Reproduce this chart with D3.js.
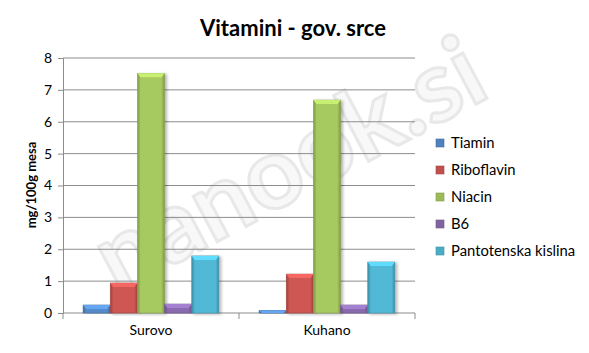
<!DOCTYPE html>
<html>
<head>
<meta charset="utf-8">
<script src="https://cdn.jsdelivr.net/npm/d3@7"></script>
<style>
  body { margin: 0; background: #fff; }
  text { font-family: Lato, "Open Sans", sans-serif; }
</style>
</head>
<body>
<svg id="chart"></svg>
<script>
// data
const categories = ["Surovo", "Kuhano"];
const seriesNames = ["Tiamin", "Riboflavin", "Niacin", "B6", "Pantotenska kislina"];
const seriesColors = ["#4f81bd", "#c0504d", "#9bbb59", "#8064a2", "#4bacc6"];
const tiamin = [0.25, 0.08];
const riboflavin = [0.94, 1.22];
const niacin = [7.52, 6.68];
const b6 = [0.28, 0.25];
const pantotenska = [1.79, 1.6];
const yTicks = [0, 1, 2, 3, 4, 5, 6, 7, 8];

const values = [tiamin, riboflavin, niacin, b6, pantotenska];

const width = 589, height = 353;
const margin = {left: 63, right: 174, top: 58, bottom: 40};

const svg = d3.select("#chart").attr("width", width).attr("height", height);
const defs = svg.append("defs");

// gradients for the bevelled bars
seriesColors.forEach(function(c, i) {
  const g = defs.append("linearGradient").attr("id", "grad" + i)
    .attr("x1", 0).attr("x2", 1).attr("y1", 0).attr("y2", 0);
  g.append("stop").attr("offset", "0%").attr("stop-color", d3.color(c).darker(0.6));
  g.append("stop").attr("offset", "12%").attr("stop-color", d3.color(c).brighter(0.2));
  g.append("stop").attr("offset", "88%").attr("stop-color", d3.color(c).brighter(0.2));
  g.append("stop").attr("offset", "100%").attr("stop-color", d3.color(c).darker(0.6));
});
const shadow = defs.append("filter").attr("id", "shadow")
  .attr("x", "-20%").attr("y", "-5%").attr("width", "150%").attr("height", "115%");
shadow.append("feDropShadow").attr("dx", 2).attr("dy", 1).attr("stdDeviation", 1.5)
  .attr("flood-color", "#000").attr("flood-opacity", 0.3);

// scales
const y = d3.scaleLinear().domain([0, 8]).range([height - margin.bottom, margin.top]);
const x0 = d3.scaleBand().domain(categories).range([margin.left, width - margin.right]);
const x1 = d3.scaleBand().domain(seriesNames)
  .range([0, x0.bandwidth()]).paddingOuter(0.74).paddingInner(0);

// watermark
svg.append("text")
  .attr("transform", "translate(305,195) rotate(-28)")
  .attr("text-anchor", "middle")
  .attr("font-size", 100).attr("font-weight", "bold")
  .attr("fill", "#f8f8f8").attr("stroke", "#e8e8e8").attr("stroke-width", 3)
  .text("nanook.si");

// gridlines
svg.append("g").selectAll("line")
  .data(yTicks.filter(d => d > 0))
  .join("line")
  .attr("x1", margin.left).attr("x2", width - margin.right)
  .attr("y1", d => y(d)).attr("y2", d => y(d))
  .attr("stroke", "#8c8c8c").attr("stroke-width", 1);

// y axis
const yAxis = svg.append("g")
  .attr("transform", "translate(" + margin.left + ",0)")
  .call(d3.axisLeft(y).tickValues(yTicks).tickSize(5).tickPadding(6));
yAxis.select(".domain").attr("stroke", "#8c8c8c");
yAxis.selectAll(".tick line").attr("stroke", "#8c8c8c");
yAxis.selectAll(".tick text").attr("font-size", 14).attr("fill", "#000")
  .style("font-family", "Lato, sans-serif");

// x axis
const xAxis = svg.append("g")
  .attr("transform", "translate(0," + y(0) + ")")
  .call(d3.axisBottom(x0).tickSize(0).tickPadding(12));
xAxis.select(".domain").remove();
xAxis.append("line").attr("x1", margin.left).attr("x2", width - margin.right)
  .attr("stroke", "#8c8c8c");
xAxis.selectAll(".edge").data([margin.left, margin.left + x0.bandwidth(), width - margin.right])
  .join("line").attr("class", "edge")
  .attr("x1", d => d).attr("x2", d => d).attr("y1", 0).attr("y2", 6)
  .attr("stroke", "#8c8c8c");
xAxis.selectAll(".tick text").attr("font-size", 14).attr("fill", "#000")
  .style("font-family", "Lato, sans-serif");

// bars
const groups = svg.append("g").selectAll("g")
  .data(categories)
  .join("g")
  .attr("transform", d => "translate(" + x0(d) + ",0)");

groups.selectAll("rect")
  .data((c, ci) => seriesNames.map((s, si) => ({s: s, si: si, v: values[si][ci]})))
  .join("rect")
  .attr("x", d => x1(d.s))
  .attr("width", x1.bandwidth())
  .attr("y", d => y(d.v))
  .attr("height", d => y(0) - y(d.v))
  .attr("fill", d => "url(#grad" + d.si + ")")
  .attr("stroke", d => d3.color(seriesColors[d.si]).darker(0.4))
  .attr("stroke-width", 0.6)
  .attr("filter", "url(#shadow)");

// bevel highlight at top of bars
groups.selectAll("path.top")
  .data((c, ci) => seriesNames.map((s, si) => ({s: s, si: si, v: values[si][ci]})))
  .join("path").attr("class", "top")
  .attr("d", function(d) {
    const x = x1(d.s), w = x1.bandwidth(), t = y(d.v), h = Math.min(4, y(0) - t);
    return "M" + x + "," + t + "h" + w + "l-3," + h + "h" + (-(w - 6)) + "z";
  })
  .attr("fill", d => d3.color(seriesColors[d.si]).brighter(0.7));

// title
svg.append("text")
  .attr("x", 293).attr("y", 36)
  .attr("text-anchor", "middle")
  .attr("font-size", 22).attr("font-weight", "bold")
  .text("Vitamini - gov. srce");

// y axis title
svg.append("text")
  .attr("transform", "translate(36,185) rotate(-90)")
  .attr("text-anchor", "middle")
  .attr("font-size", 13).attr("font-weight", "bold")
  .text("mg/100g mesa");

// legend
const legend = svg.append("g").attr("transform", "translate(436,143)");
const items = legend.selectAll("g").data(seriesNames).join("g")
  .attr("transform", (d, i) => "translate(0," + i * 27 + ")");
items.append("rect")
  .attr("x", 0).attr("y", -4).attr("width", 8).attr("height", 8)
  .attr("fill", (d, i) => seriesColors[i])
  .attr("stroke", (d, i) => d3.color(seriesColors[i]).darker(0.5)).attr("stroke-width", 0.6);
items.append("text")
  .attr("x", 15).attr("y", 0).attr("dy", "0.35em")
  .attr("font-size", 14.8)
  .text(d => d);
</script>
</body>
</html>
